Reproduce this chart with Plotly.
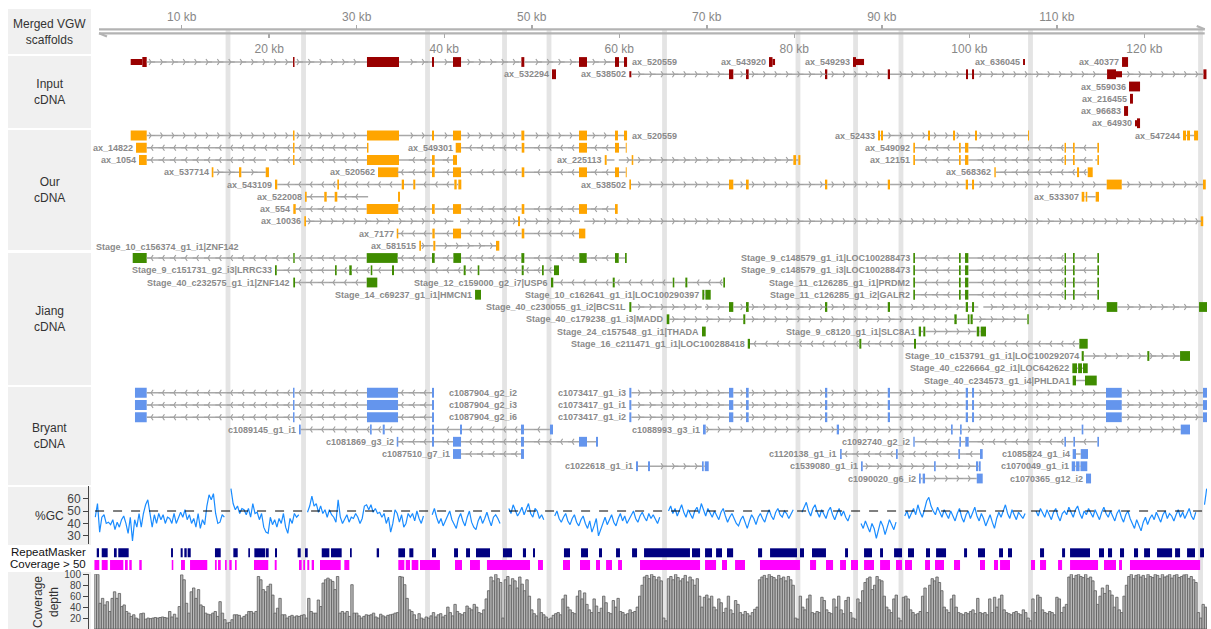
import plotly.graph_objects as go

W, H = 1211, 629
FONT = "Liberation Sans, Arial, Helvetica, sans-serif"

# ---------------- data ----------------
KB_RANGE = [0.0, 127.16]
TOP_TICKS = [10, 30, 50, 70, 90, 110]
BOTTOM_TICKS = [20, 40, 60, 80, 100, 120]
GAP_CENTERS = [15.29, 23.92, 38.09, 46.89, 51.97, 65.17, 80.42, 87.0, 92.19, 106.99, 126.42]
GAP_WIDTH = 0.55

TRACK_NAMES = ["Input<br>cDNA", "Our<br>cDNA", "Jiang<br>cDNA", "Bryant<br>cDNA"]
TRACK_COLORS = ["#990000", "#ffa500", "#3f8c00", "#6495ed"]

LOC = [(93.60, 93.79), (98.82, 99.02), (99.51, 99.89), (110.88, 111.05), (111.85, 112.04), (114.63, 114.82)]
BCS = [(72.54, 73.03), (74.48, 74.79), (83.51, 83.77), (90.68, 90.94), (99.59, 99.85), (100.31, 100.54)]
BRY_A = [(4.66, 6.00), (22.72, 22.89), (31.17, 34.72), (38.60, 38.83)]
BRY_B = [(61.15, 61.38)] + BCS + [(115.62, 117.42), (126.70, 127.16)]

# (track, row slot, strand, name, label side, exons kb, thin UTR kb, intron gaps kb)
TX = [
    (0, 0, '+', 'ax_520559', 'right', [(5.50, 6.00), (22.72, 22.89), (31.17, 34.83), (38.60, 38.83), (41.00, 41.92), (48.81, 49.15), (55.40, 56.31), (59.51, 59.97), (60.54, 60.89)], [(4.17, 5.50)], []),
    (0, 0, '.', 'ax_543920', 'left', [(77.11, 77.51)], [(77.51, 77.80)], []),
    (0, 0, '.', 'ax_549293', 'left', [(86.71, 87.05)], [(87.05, 87.97)], []),
    (0, 0, '.', 'ax_636045', 'left', [], [(106.14, 106.36)], []),
    (0, 0, '.', 'ax_40377', 'left', [(117.45, 118.14)], [], []),
    (0, 1, '.', 'ax_532294', 'left', [(52.31, 52.77)], [], []),
    (0, 1, '+', 'ax_538502', 'left', [(72.54, 73.03), (74.48, 74.79), (83.51, 83.77), (90.68, 90.94), (99.62, 99.85), (100.31, 100.54), (115.74, 116.76), (126.75, 127.10)], [(61.15, 61.38), (116.76, 117.45)], []),
    (0, 2, '.', 'ax_559036', 'left', [(118.25, 119.51)], [], []),
    (0, 3, '.', 'ax_216455', 'left', [(118.36, 118.70)], [], []),
    (0, 4, '.', 'ax_96683', 'left', [(117.68, 118.14)], [], []),
    (0, 5, '.', 'ax_64930', 'left', [(119.16, 119.51)], [(118.93, 119.16)], []),

    (1, 6, '+', 'ax_520559', 'right', [(4.17, 6.00), (22.72, 22.89), (31.17, 34.83), (38.60, 38.83), (41.00, 41.92), (48.81, 49.15), (55.40, 56.31), (59.51, 59.85), (60.54, 60.89)], [], []),
    (1, 6, '+', 'ax_52433', 'left', [(89.57, 89.80), (89.91, 90.14), (95.28, 95.51), (98.14, 98.37), (100.65, 100.88), (106.71, 106.82)], [], []),
    (1, 6, '+', 'ax_547244', 'left', [(124.42, 124.76), (124.88, 125.22), (125.68, 126.14)], [], []),
    (1, 7, '-', 'ax_14822', 'left', [(4.78, 6.00), (22.72, 22.89), (31.17, 31.34)], [], []),
    (1, 7, '-', 'ax_549301', 'left', [(41.31, 41.92), (48.85, 49.15), (55.40, 56.31), (59.51, 59.97), (60.74, 60.85)], [], []),
    (1, 7, '-', 'ax_549092', 'left', LOC, [], []),
    (1, 8, '-', 'ax_1054', 'left', [(5.12, 6.00), (22.72, 22.89), (31.17, 34.83), (38.60, 38.91), (41.00, 41.46)], [], [(19.63, 19.97)]),
    (1, 8, '+', 'ax_225113', 'left', [(58.34, 58.56), (61.42, 61.60), (79.89, 80.20), (80.46, 80.69)], [], [(59.45, 59.95)]),
    (1, 8, '-', 'ax_12151', 'left', LOC, [], [(114.10, 114.40)]),
    (1, 9, '+', 'ax_537714', 'left', [(13.43, 13.62), (16.55, 16.81), (19.60, 19.97)], [], []),
    (1, 9, '-', 'ax_520562', 'left', [(32.43, 34.75), (38.60, 38.91), (41.00, 41.92), (48.85, 49.15), (55.40, 56.31), (59.51, 59.97), (60.74, 60.85)], [], []),
    (1, 9, '-', 'ax_568362', 'left', [(102.86, 103.02), (112.31, 112.54), (113.53, 114.10)], [], []),
    (1, 10, '-', 'ax_543109', 'left', [(20.66, 20.92), (27.78, 27.97), (35.14, 35.40), (36.46, 36.69), (41.15, 41.42), (41.61, 41.95)], [], []),
    (1, 10, '+', 'ax_538502', 'left', [(61.15, 61.34)] + BCS + [(115.70, 117.42), (126.70, 127.02)], [], []),
    (1, 11, '-', 'ax_522008', 'left', [(24.09, 24.28), (26.29, 26.57), (27.48, 27.78), (34.72, 34.94)], [], [(31.30, 34.72)]),
    (1, 11, '+', 'ax_533307', 'left', [(112.84, 113.14), (113.30, 113.48), (114.44, 114.82)], [], []),
    (1, 12, '-', 'ax_554', 'left', [(22.75, 23.03), (31.14, 34.75), (38.60, 38.91), (41.00, 41.92), (48.85, 49.15), (55.40, 56.31), (59.51, 59.82)], [], []),
    (1, 13, '+', 'ax_10036', 'left', [(24.01, 24.20), (48.43, 48.66), (126.44, 126.73)], [], [(41.04, 41.80), (55.51, 56.00)]),
    (1, 14, '-', 'ax_7177', 'left', [(34.57, 34.75), (38.64, 38.91), (41.00, 41.92), (48.85, 49.15), (55.40, 56.12)], [], []),
    (1, 15, '+', 'ax_581515', 'left', [(37.15, 37.34), (38.75, 38.98), (45.91, 46.29)], [], []),

    (2, 16, '-', 'Stage_10_c156374_g1_i1|ZNF142', 'above', [(4.40, 6.00), (22.75, 22.91), (31.14, 34.68), (38.60, 38.91), (41.04, 41.92), (48.81, 49.15), (55.43, 56.28), (59.51, 59.94), (60.66, 60.85)], [], []),
    (2, 16, '-', 'Stage_9_c148579_g1_i1|LOC100288473', 'left', LOC, [], []),
    (2, 17, '-', 'Stage_9_c151731_g2_i3|LRRC33', 'left', [(20.66, 20.86), (27.52, 27.71), (29.15, 29.43), (31.60, 31.78), (34.03, 34.26), (42.22, 42.45), (43.82, 44.01), (48.85, 49.08), (51.17, 51.37), (52.54, 53.11)], [], []),
    (2, 17, '-', 'Stage_9_c148579_g1_i3|LOC100288473', 'left', LOC, [], []),
    (2, 18, '-', 'Stage_40_c232575_g1_i1|ZNF142', 'left', [(22.75, 22.95), (31.14, 32.35)], [], []),
    (2, 18, '-', 'Stage_12_c159000_g2_i7|USP6', 'left', [(52.20, 52.46), (59.25, 59.48), (66.11, 66.29), (67.55, 67.78), (71.89, 72.08)], [], []),
    (2, 18, '-', 'Stage_11_c126285_g1_i1|PRDM2', 'left', LOC, [], []),
    (2, 19, '.', 'Stage_14_c69237_g1_i1|HMCN1', 'left', [(43.52, 44.20)], [], []),
    (2, 19, '.', 'Stage_10_c162641_g1_i1|LOC100290397', 'left', [(69.49, 69.72), (69.84, 70.45)], [], []),
    (2, 19, '-', 'Stage_11_c126285_g1_i2|GALR2', 'left', LOC, [], []),
    (2, 20, '+', 'Stage_40_c230055_g1_i2|BCS1L', 'left', [(61.15, 61.38)] + BCS + [(115.70, 116.91), (126.25, 127.16)], [], [(69.42, 69.80), (101.03, 101.60)]),
    (2, 21, '+', 'Stage_40_c179238_g1_i3|MADD', 'left', [(65.42, 65.72), (74.17, 74.40), (98.29, 98.56), (99.82, 100.02), (100.14, 100.39), (106.63, 106.79)], [], []),
    (2, 22, '.', 'Stage_24_c157548_g1_i1|THADA', 'left', [(69.45, 69.88)], [], []),
    (2, 22, '+', 'Stage_9_c8120_g1_i1|SLC8A1', 'left', [(94.22, 94.48), (94.74, 94.97), (100.85, 101.14), (101.30, 101.91)], [], []),
    (2, 23, '-', 'Stage_16_c211471_g1_i1|LOC100288418', 'left', [(74.68, 74.94), (87.43, 87.66), (93.68, 93.91), (112.57, 113.53)], [], []),
    (2, 24, '+', 'Stage_10_c153791_g1_i1|LOC100292074', 'left', [(112.84, 113.08), (120.34, 120.57), (124.08, 125.22)], [], []),
    (2, 25, '.', 'Stage_40_c226664_g2_i1|LOC642622', 'left', [(111.77, 112.31), (112.43, 112.88), (112.99, 113.53)], [], []),
    (2, 26, '+', 'Stage_40_c234573_g1_i4|PHLDA1', 'left', [(111.81, 112.19), (113.22, 114.56)], [], []),

    (3, 27, '-', 'c1087904_g2_i2', 'right', BRY_A, [], []),
    (3, 27, '+', 'c1073417_g1_i3', 'left', BRY_B, [], []),
    (3, 28, '-', 'c1087904_g2_i3', 'right', BRY_A, [], []),
    (3, 28, '+', 'c1073417_g1_i1', 'left', BRY_B, [], []),
    (3, 29, '-', 'c1087904_g2_i6', 'right', BRY_A, [], []),
    (3, 29, '+', 'c1073417_g1_i2', 'left', BRY_B, [], []),
    (3, 30, '-', 'c1089145_g1_i1', 'left', [(23.40, 23.60), (31.52, 31.71), (32.97, 33.20), (38.60, 38.83), (41.80, 42.03), (48.77, 49.11), (52.08, 52.43)], [], []),
    (3, 30, '+', 'c1088993_g3_i1', 'left', [(69.57, 69.88), (84.85, 85.11), (97.91, 98.10), (98.94, 99.13), (112.84, 113.03), (124.16, 125.22)], [], []),
    (3, 31, '-', 'c1081869_g3_i2', 'left', [(34.57, 34.75), (38.60, 38.83), (41.00, 41.92), (48.77, 49.11), (55.40, 56.31), (57.34, 57.57)], [], []),
    (3, 31, '-', 'c1092740_g2_i2', 'left', [(93.60, 93.76), (98.86, 99.05), (99.54, 99.93), (110.86, 111.05), (111.89, 112.08), (114.63, 114.82)], [], []),
    (3, 32, '-', 'c1087510_g7_i1', 'left', [(41.00, 41.92), (48.77, 49.11)], [], []),
    (3, 32, '-', 'c1120138_g1_i1', 'left', [(85.23, 85.42), (91.62, 91.82), (98.74, 98.94), (101.22, 101.53)], [], []),
    (3, 32, '.', 'c1085824_g1_i4', 'left', [(111.81, 112.19), (112.73, 113.56)], [], []),
    (3, 33, '+', 'c1022618_g1_i1', 'left', [(61.91, 62.14), (63.28, 63.51), (69.45, 69.65), (69.77, 70.22)], [], []),
    (3, 33, '+', 'c1539080_g1_i1', 'left', [(87.62, 87.82), (95.97, 96.16), (100.76, 101.02), (101.10, 101.30)], [], []),
    (3, 33, '.', 'c1070049_g1_i1', 'left', [(111.70, 112.10), (112.20, 112.60), (112.70, 113.48)], [], []),
    (3, 34, '+', 'c1090020_g6_i2', 'left', [(94.25, 94.45), (94.67, 94.94), (100.85, 101.53)], [], []),
    (3, 34, '.', 'c1070365_g12_i2', 'left', [(113.33, 113.91)], [], []),
]
# extra pixel gap between a right-hand label and its transcript
LABEL_GAP = {'c1087904_g2_i2': 13, 'c1087904_g2_i3': 13, 'c1087904_g2_i6': 13}

REPEATS = [(0.29, 0.55), (0.86, 1.54), (2.26, 2.57), (2.75, 3.94), (8.78, 9.00), (9.88, 10.11), (10.30, 10.57), (10.68, 11.03),
           (13.80, 14.46), (15.90, 16.40), (17.61, 17.80), (18.30, 19.55), (19.63, 19.94), (20.66, 20.89), (23.25, 23.60),
           (24.09, 24.40), (26.00, 26.87), (27.06, 28.28), (29.23, 29.43), (32.28, 32.55), (34.75, 35.52), (36.01, 36.47),
           (38.60, 39.06), (41.12, 41.57), (42.49, 42.94), (43.63, 45.23), (46.71, 47.74), (48.99, 49.34), (50.14, 50.37),
           (53.68, 54.37), (55.63, 56.43), (57.68, 58.03), (59.63, 60.08), (61.46, 62.03), (62.83, 68.08), (68.31, 69.23),
           (69.80, 70.60), (71.06, 71.74), (72.31, 73.01), (75.86, 76.32), (77.23, 80.31), (80.65, 81.11), (82.02, 83.62),
           (85.80, 86.14), (87.97, 88.88), (89.80, 90.14), (91.40, 92.31), (92.99, 93.68), (95.05, 95.51), (96.20, 97.34),
           (99.40, 99.74), (100.99, 101.79), (103.40, 103.85), (104.42, 104.88), (108.08, 108.54), (110.60, 110.94),
           (111.51, 113.79), (114.82, 115.39), (115.85, 116.31), (117.22, 117.68), (118.82, 119.28), (119.97, 120.65),
           (121.45, 123.17), (123.51, 124.08), (124.88, 125.79), (126.37, 126.82)]

HIGH_COVERAGE = [(0.01, 0.58), (0.86, 1.54), (1.81, 3.33), (3.52, 3.83), (4.01, 4.29), (5.15, 5.43), (8.86, 9.04), (9.92, 10.37),
                 (10.95, 12.92), (13.80, 14.00), (14.15, 14.46), (14.95, 15.14), (15.44, 15.71), (16.09, 16.28), (18.26, 19.89),
                 (20.63, 20.85), (23.40, 23.71), (23.89, 24.09), (24.35, 24.58), (24.85, 25.12), (25.80, 28.17), (28.58, 29.15),
                 (34.75, 35.44), (35.60, 36.09), (36.28, 37.04), (37.23, 39.51), (41.23, 42.03), (42.94, 44.08), (44.88, 49.80),
                 (50.71, 51.28), (53.57, 54.37), (55.51, 56.66), (57.34, 57.80), (58.49, 59.17), (59.86, 60.31), (62.37, 69.23),
                 (69.80, 71.06), (71.74, 72.31), (73.23, 74.37), (76.08, 80.65), (81.80, 82.49), (83.62, 84.43), (85.23, 85.91),
                 (86.48, 87.28), (87.97, 89.11), (89.80, 90.94), (91.62, 92.31), (92.65, 93.45), (94.94, 95.51), (96.08, 97.11),
                 (98.25, 98.94), (101.22, 101.79), (102.82, 103.28), (103.51, 104.65), (107.05, 107.51), (108.08, 108.77),
                 (110.14, 110.60), (111.51, 114.71), (115.39, 116.76), (117.11, 117.45), (118.36, 126.37)]

GC_STEP = 0.25
GC_VALUES = [
    45, 56, 33, 45, 47, 40, 41, 39, 43, 35, 41, 37, 43, 46, 40, 32, 45, 26, 43, 37, 48, 37, 48, 55, 59, 48, 37, 47, 40, 48,
    43, 47, 40, 45, 44, 40, 48, 40, 45, 49, 45, 51, 43, 47, 40, 44, 37, 48, 36, 43, 39, 54, 63, 59, 64, 48, 40, 41, 47, 45,
    None, None,
    68, 56, 51, 54, 48, 52, 51, 47, 52, 45, 56, 48, 49, 43, 48, 37, 33, 32, 45, 39, 43, 37, 44, 40, 48, 37, 32, 44, 40, 48,
    45, 47, None, None, None,
    49, 54, 62, 54, 56, 49, 54, 48, 51, 45, 51, 47, 45, 41, 59, 45, 40, 44, 47, 41, 45, 44, 48, 45, 40, 44, 54, 55, 51, 55,
    49, 52, 48, 49, 45, 48, 40, 45, 33, 40, 51, 48, 41, 47, 37, 40, 48,
    45, 48, 42, 50, 44, 40, 46, None, None, None,
    47, 52, 45, 40, 44, 38, 42, 46, 50, 43,
    40, 36, 44, 48, 42, 38, 45, 50, 41, 37,
    35, 42, 46, 40, 44, 49, 43, 38, 45, 47,
    44, 40, None, None, None, 52, 48, 55, 50, 46,
    49, 53, 47, 51, 56, 48, 45, 52, 50, 44,
    47, 43, None, None, None, None, 46, 50, 44, 41,
    45, 48, 42, 39, 44, 47, 41, 38, 43, 46,
    40, 36, 42, 33, 38, 44, 30, 35, 41, 45,
    39, 43, 47, 41, 38, 44, 48, 42, 46, 40,
    43, 47, 50, 44, 41, 46, 49, 45, 42, 48,
    44, 47, 43, 40, 45, None, None, None, 50, 54,
    48, 52, 46, 50, 55, 49, 45, 51, 47, 44,
    50, 53, 48, 56, 51, 46, 52, 49, 45, 50,
    47, 43, 49, 52, 46, 41, 45, 48, 44, 40,
    38, 43, 46, 40, 36, 42, 47, 44, 39, 45,
    48, 44, 41, 47, 51, 46, 43, 49, 52, 47,
    45, 50, 48, 44, 47, 51, None, None, None, 49,
    53, 57, 50, 46, 52, 55, 49, 45, 51, 48,
    44, 50, 53, 47, 43, 48, 52, 46, 50, 45,
    42, 47, None, None, None, None, 40, 36, 42, 38,
    33, 40, 36, 28, 35, 42, 38, 31, 37, 43,
    39, 35, 41, None, None, None, 46, 50, 44, 48,
    52, 47, 55, 49, 45, 51, 58, 61, 54, 50,
    47, 53, 49, 45, 51, 48, 44, 50, 46, 42,
    48, 52, 45, 41, 47, 50, 44, 49, 53, 46,
    42, 48, 44, 38, 43, 47, 41, 36, 44, 49,
    45, 50, 55, 48, 44, 51, 47, 43, 49, 46,
    44, 48, None, None, None, None, 50, 46, 52, 48,
    45, 51, 47, 43, 49, 52, 46, 42, 48, 50,
    47, 53, 49, 45, 51, 54, 48, 44, 50, 47,
    52, 49, 45, 51, 47, 43, 49, 53, 48, 45,
    50, 46, 42, 48, 51, 45, 41, 47, 50, 44,
    40, 36, 43, 38, 34, 41, 45, 39, 44, 47,
    43, 49, 45, 41, 47, 50, 44, 48, 46, 42,
    47, 51, 45, 49, 44, 48, 52, 46, 43, 49,
    None, None, None, 55, 68,
]

COV_STEP = 0.274
COV_VALUES = [
    100, 100, 47, 56, 44, 50, 32, 56, 68, 56, 65, 41, 44, 32, 29, 23, 26, 20, 18, 28, 29, 18,
    20, 19, 20, 21, 20, 21, 22, 21, 20,
    32, 22, 27, 20, 41,
    99, 90, 47, 29, 68, 75, 56, 72, 44, 41, 29, 27, 26, 29, 32, 23, 50, 29, 17, 11, 12, 17, 26, 26, 25, 20, 23, 26, 32, 32, 29, 32,
    96, 90, 72, 68, 78, 82, 62, 29, 38, 56, 26,
    26, 20, 23, 25, 22, 24, 23, 25,
    26, 20, 56, 32, 29, 29, 53, 41, 84, 90, 93, 90, 87, 72, 96,
    29, 32, 29, 32, 23, 81, 29, 29,
    24, 20, 23, 26, 25,
    26, 29, 22, 20, 27, 24, 22, 25, 26, 27, 29, 30,
    96, 95, 81, 56, 35, 32, 26, 17,
    28, 20, 18, 22, 20, 24, 30, 22, 26, 28, 22, 25, 40, 30, 24, 45, 32, 28, 26, 30,
    42, 38, 35, 45, 40, 30, 28, 35, 55, 70, 95, 88, 100, 92, 85, 20, 90, 96, 80, 92,
    88, 75, 95, 82, 70, 90, 60, 35, 28, 24, 55, 30, 26, 22, 18, 20, 25, 28, 30, 26,
    55, 62, 40, 35, 30, 28, 60, 70, 55, 66, 45, 35, 30, 55, 42, 30, 38, 60, 48, 30,
    28, 52, 40, 56, 32, 30, 26, 28, 35, 30, 32, 40, 60, 80, 95, 98, 92, 100, 96, 90,
    95, 88, 20, 15, 92, 96, 90, 100, 94, 88, 92, 98, 86, 95, 90, 80, 92, 60, 40, 58,
    62, 55, 60, 40, 35, 55, 48, 30, 38, 60, 35, 28, 52, 45, 30, 26, 32, 28, 24, 30,
    36, 40, 90, 95, 98, 92, 100, 96, 94, 90, 98, 92, 95, 88, 96, 90, 80, 20, 18, 60,
    40, 35, 55, 62, 30, 28, 32, 30, 58, 52, 35, 30, 28, 55, 40, 60, 35, 28, 52, 58,
    30, 20, 18, 55, 48, 70, 85, 92, 95, 72, 80, 96, 90, 88, 60, 40, 35, 30, 55, 62,
    20, 15, 58, 60, 55, 35, 30, 26, 28, 32, 60, 75, 30, 80, 92, 88, 95, 85, 70, 40,
    35, 30, 55, 62, 40, 30, 28, 26, 30, 28, 32, 35, 28, 56, 30, 28, 30, 26, 55, 30,
    58, 40, 55, 62, 35, 30, 28, 26, 30, 32, 28, 26, 35, 30, 20, 15, 55, 30, 62, 58,
    35, 30, 28, 32, 30, 26, 58, 55, 30, 40, 45, 95, 100, 92, 98, 100, 96, 94, 100, 92,
    95, 88, 70, 45, 60, 75, 65, 80, 70, 62, 40, 58, 35, 30, 60, 80, 96, 100, 92, 98,
    100, 95, 98, 92, 100, 96, 94, 100, 98, 92, 100, 95, 97, 100, 93, 98, 100, 94, 96, 99,
    100, 92, 96, 90, 85, 30, 20, 45, 40, 38,
]

# ---------------- layout helpers ----------------
ROW0_PX, ROW_PX = 62.0, 12.25          # pixel row of slot 0 and slot pitch
GENE_DOM_PX = (0.0, 571.0)
GENE_RANGE = [(GENE_DOM_PX[1] - ROW0_PX) / ROW_PX, (GENE_DOM_PX[0] - ROW0_PX) / ROW_PX]
X_DOM = [94.2 / W, 1207 / W]


def py(p):
    return 1 - p / H


def slot_of(p):
    return (p - ROW0_PX) / ROW_PX


def subtract(span, cuts):
    s, e = span
    segs, cur = [], s
    for a, b in sorted(cuts):
        if b <= cur:
            continue
        if a > cur:
            segs.append((cur, min(a, e)))
        cur = max(cur, b)
        if cur >= e:
            break
    if cur < e:
        segs.append((cur, e))
    return segs


fig = go.Figure()

# gap bands
for c in GAP_CENTERS:
    fig.add_shape(type="rect", xref="x", yref="paper", x0=c - GAP_WIDTH / 2, x1=c + GAP_WIDTH / 2,
                  y0=0, y1=py(30), fillcolor="#e4e4e4", line_width=0, layer="below")

# left label boxes
BOXES = [("Merged VGW<br>scaffolds", 9, 54), (TRACK_NAMES[0], 56, 128), (TRACK_NAMES[1], 130, 250),
         (TRACK_NAMES[2], 253, 385), (TRACK_NAMES[3], 387, 485), ("%GC", 487, 545), ("", 572, 629)]
for text, y0, y1 in BOXES:
    fig.add_shape(type="rect", xref="paper", yref="paper", x0=8 / W, x1=91 / W, y0=py(y1), y1=py(y0),
                  fillcolor="#f0f0f0", line_width=0, layer="below")
    if text:
        fig.add_annotation(xref="paper", yref="paper", x=49.5 / W, y=py((y0 + y1) / 2), text=text, showarrow=False,
                           font=dict(family=FONT, size=12, color="#333"), xanchor="center", yanchor="middle")
fig.add_annotation(xref="paper", yref="paper", x=46 / W, y=py(602), text="Coverage<br>depth", textangle=-90,
                   showarrow=False, xanchor="center", yanchor="middle",
                   font=dict(family=FONT, size=12, color="#333"))
for text, yp in [("RepeatMasker", 552.3), ("Coverage > 50", 564.3)]:
    fig.add_annotation(xref="paper", yref="paper", x=88 / W, y=py(yp), text=text, showarrow=False, xanchor="right",
                       yanchor="middle", font=dict(family=FONT, size=11.5, color="#111"))

# transcripts
ARROW_STEP = 1.3
for ti, col in enumerate(TRACK_COLORS):
    lx, ly = [], []
    ar_x, ar_y, al_x, al_y = [], [], [], []
    thick = ([], [], [])
    thin = ([], [], [])
    for (trk, slot, strand, name, side, exons, utrs, gaps) in TX:
        if trk != ti:
            continue
        pieces = exons + utrs
        s = min(a for a, b in pieces)
        e = max(b for a, b in pieces)
        for a, b in subtract((s, e), pieces + gaps):
            lx += [a, b, None]
            ly += [slot, slot, None]
        if strand in "+-":
            k = int(s // ARROW_STEP) + 1
            while k * ARROW_STEP < e:
                p = k * ARROW_STEP
                k += 1
                if p < s + 0.3 or p > e - 0.3:
                    continue
                if any(a - 0.3 < p < b + 0.3 for a, b in pieces):
                    continue
                if any(a - 0.15 < p < b + 0.15 for a, b in gaps):
                    continue
                if strand == "+":
                    ar_x.append(p); ar_y.append(slot)
                else:
                    al_x.append(p); al_y.append(slot)
        for a, b in exons:
            thick[0].append(slot); thick[1].append(a); thick[2].append(b - a)
        for a, b in utrs:
            thin[0].append(slot); thin[1].append(a); thin[2].append(b - a)
        lab = dict(xref="x", yref="y", text="<b>%s</b>" % name, showarrow=False, yanchor="middle",
                   font=dict(family=FONT, size=9, color="#8a8a8a"))
        if side == "left":
            fig.add_annotation(x=s, y=slot, xanchor="right", xshift=-1, **lab)
        elif side == "right":
            fig.add_annotation(x=e, y=slot, xanchor="left", xshift=LABEL_GAP.get(name, 3), **lab)
        else:
            fig.add_annotation(x=KB_RANGE[0], y=slot - 0.9, xanchor="left", **lab)
    fig.add_trace(go.Scatter(x=lx, y=ly, mode="lines", line=dict(color="#a8a8a8", width=1.5),
                             hoverinfo="skip", showlegend=False))
    for xs, ys, sym in [(ar_x, ar_y, "y-right"), (al_x, al_y, "y-left")]:
        fig.add_trace(go.Scatter(x=xs, y=ys, mode="markers", hoverinfo="skip", showlegend=False,
                                 marker=dict(symbol=sym, size=5, color="#a0a0a0",
                                             line=dict(color="#a0a0a0", width=1.2))))
    fig.add_trace(go.Bar(orientation="h", y=thick[0], base=thick[1], x=thick[2], width=0.8,
                         marker=dict(color=col, line=dict(width=0)), hoverinfo="skip", showlegend=False))
    fig.add_trace(go.Bar(orientation="h", y=thin[0], base=thin[1], x=thin[2], width=0.5,
                         marker=dict(color=col, line=dict(width=0)), hoverinfo="skip", showlegend=False))

# RepeatMasker and coverage>50 rows
for ivals, ypx, hpx, col in [(REPEATS, 552.8, 9, "#000080"), (HIGH_COVERAGE, 565, 10, "#ff00ff")]:
    fig.add_trace(go.Bar(orientation="h", y=[slot_of(ypx)] * len(ivals), base=[a for a, b in ivals],
                         x=[b - a for a, b in ivals], width=hpx / ROW_PX,
                         marker=dict(color=col, line=dict(width=0)), hoverinfo="skip", showlegend=False))

# scale lines (forward / reverse strands)
y_top, y_bot = slot_of(29.3), slot_of(33.3)
fig.add_trace(go.Scatter(x=[0.55, 126.9, None, 126.9, 125.99], y=[y_top, y_top, None, y_top, slot_of(26)],
                         mode="lines", line=dict(color="#b3b3b3", width=2.3), hoverinfo="skip", showlegend=False))
fig.add_trace(go.Scatter(x=[0.55, 126.9, None, 0.55, 1.46], y=[y_bot, y_bot, None, y_bot, slot_of(36.5)],
                         mode="lines", line=dict(color="#b3b3b3", width=2.3), hoverinfo="skip", showlegend=False))
# carrier for second (lower) tick row
fig.add_trace(go.Scatter(x=[BOTTOM_TICKS[0]], y=[y_bot], xaxis="x2", yaxis="y", mode="markers",
                         marker=dict(opacity=0), hoverinfo="skip", showlegend=False))

# GC content
gc_x = [(i + 0.5) * GC_STEP for i in range(len(GC_VALUES))]
fig.add_trace(go.Scatter(x=gc_x, y=GC_VALUES, xaxis="x", yaxis="y2", mode="lines", connectgaps=False,
                         line=dict(color="#1a8cff", width=1.2), hoverinfo="skip", showlegend=False))
fig.add_trace(go.Scatter(x=[0.1, KB_RANGE[1]], y=[50, 50], xaxis="x", yaxis="y2", mode="lines",
                         line=dict(color="#000", width=1, dash="dash"), hoverinfo="skip", showlegend=False))

# coverage depth
cov_x = [(i + 0.5) * COV_STEP for i in range(len(COV_VALUES))]
fig.add_trace(go.Bar(x=cov_x, y=COV_VALUES, xaxis="x", yaxis="y3", width=COV_STEP,
                     marker=dict(color="#b8b8b8", line=dict(color="#5c5c5c", width=0.8)),
                     hoverinfo="skip", showlegend=False))

tickfont_scale = dict(family=FONT, size=12, color="#888")
axfont = dict(family=FONT, size=12, color="#444")
covfont = dict(family=FONT, size=10, color="#444")
fig.update_layout(
    width=W, height=H, margin=dict(l=0, r=0, t=0, b=0, pad=0, autoexpand=False),
    paper_bgcolor="white", plot_bgcolor="rgba(0,0,0,0)",
    barmode="overlay", showlegend=False, font=dict(family=FONT),
    xaxis=dict(domain=X_DOM, range=KB_RANGE, side="top", anchor="free", position=py(29.3),
               tickvals=TOP_TICKS, ticktext=["%d kb" % v for v in TOP_TICKS], ticks="outside", ticklen=4,
               tickwidth=1.5, tickcolor="#aaa", tickfont=tickfont_scale, showgrid=False, zeroline=False,
               showline=False, fixedrange=True, automargin=False),
    xaxis2=dict(domain=X_DOM, range=KB_RANGE, overlaying="x", side="bottom", anchor="free", position=py(33.3),
                tickvals=BOTTOM_TICKS, ticktext=["%d kb" % v for v in BOTTOM_TICKS], ticks="outside", ticklen=4,
                tickwidth=1.5, tickcolor="#aaa", tickfont=tickfont_scale, showgrid=False, zeroline=False,
                showline=False, fixedrange=True, automargin=False),
    yaxis=dict(domain=[py(GENE_DOM_PX[1]), py(GENE_DOM_PX[0])], range=GENE_RANGE, visible=False,
               anchor="x", fixedrange=True, automargin=False),
    yaxis2=dict(domain=[py(544), py(486)], range=[23.45, 70.11], anchor="free", position=88 / W,
                tickvals=[30, 40, 50, 60], ticks="outside", ticklen=5, tickcolor="#444", showline=True,
                linecolor="#444", linewidth=1, showgrid=False, zeroline=False, tickfont=axfont, automargin=False),
    yaxis3=dict(domain=[0, py(574.3)], range=[0, 100], anchor="free", position=88 / W,
                tickvals=[0, 20, 40, 60, 80, 100], ticks="outside", ticklen=5, tickcolor="#444", showline=True,
                linecolor="#444", linewidth=1, showgrid=False, zeroline=False, tickfont=covfont, automargin=False),
)

fig.write_html("out.html", config={"displayModeBar": False, "staticPlot": True},
               post_script="document.body.style.margin='0px';document.body.style.overflow='hidden';")
